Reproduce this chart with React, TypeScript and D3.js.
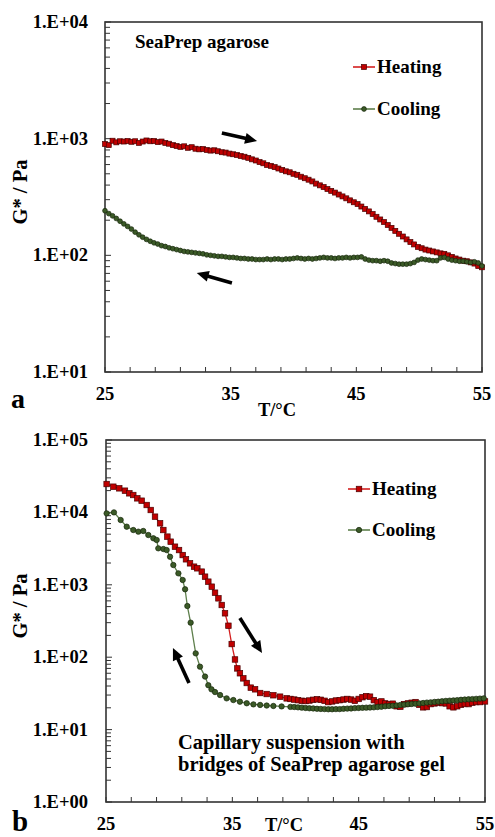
import React from 'react';
import * as d3 from 'd3';

// ---------------- DATA ----------------
const X_TICK_LABELS = [25, 35, 45, 55];
const X_MINOR_STEP = 2;

// Panel a (SeaPrep agarose)
const TEMPS_A = [25, 25.3, 25.6, 25.9, 26.2, 26.5, 26.8, 27.1, 27.4, 27.7, 28, 28.3, 28.6, 28.9, 29.2, 29.5, 29.8, 30.1, 30.4, 30.7,
  31, 31.3, 31.6, 31.9, 32.2, 32.5, 32.8, 33.1, 33.4, 33.7, 34, 34.3, 34.6, 34.9, 35.2, 35.5, 35.8, 36.1, 36.4, 36.7,
  37, 37.3, 37.6, 37.9, 38.2, 38.5, 38.8, 39.1, 39.4, 39.7, 40, 40.3, 40.6, 40.9, 41.2, 41.5, 41.8, 42.1, 42.4, 42.7,
  43, 43.3, 43.6, 43.9, 44.2, 44.5, 44.8, 45.1, 45.4, 45.7, 46, 46.3, 46.6, 46.9, 47.2, 47.5, 47.8, 48.1, 48.4, 48.7,
  49, 49.3, 49.6, 49.9, 50.2, 50.5, 50.8, 51.1, 51.4, 51.7, 52, 52.3, 52.6, 52.9, 53.2, 53.5, 53.8, 54.1, 54.4, 54.7, 55];
const HEAT_A = [900, 880, 960, 930, 950, 945, 955, 940, 950, 920,
  945, 965, 950, 955, 935, 945, 920, 905, 880, 865,
  850, 860, 835, 845, 820, 810, 815, 800, 790, 795,
  780, 765, 760, 745, 735, 725, 710, 700, 685, 665,
  650, 630, 615, 595, 585, 570, 555, 540, 525, 515,
  500, 490, 472, 458, 445, 430, 412, 398, 385, 370,
  357, 345, 332, 320, 308, 296, 285, 275, 262, 250,
  238, 226, 214, 203, 193, 182, 172, 162, 153, 145,
  137, 130, 124, 118, 115, 112, 110, 108, 106, 104,
  103, 100, 97, 94, 92, 90, 89, 87, 85, 81, 79];
const COOL_A = [241, 228, 218, 207, 196, 186, 177, 168, 158, 150,
  143, 137, 132, 128, 125, 121, 119, 116, 114, 112,
  110, 108, 107, 106, 105, 104, 103, 101, 100, 99,
  98, 98, 97, 96, 96, 95, 94, 94, 93, 93,
  92, 92, 92, 93, 92, 93, 93, 92, 93, 93,
  94, 95, 94, 93, 94, 93, 94, 95, 96, 95,
  95, 94, 95, 95, 96, 95, 96, 96, 97, 93,
  91, 90, 90, 89, 90, 89, 86, 85, 84, 84,
  84, 85, 87, 91, 93, 92, 91, 90, 90, 95,
  96, 93, 91, 90, 89, 89, 88, 87, 88, 86, 81];

// Panel b (capillary suspension)
const TEMPS_B_HEAT = [25.05, 25.58, 26.05, 26.5, 26.85, 27.16, 27.48, 27.82, 28.22, 28.54, 28.88, 29.28, 29.54, 29.86, 30.12,
  30.46, 30.78, 31.07, 31.33, 31.65, 31.97, 32.23, 32.58, 32.84, 33.1, 33.37, 33.63, 33.9, 34.16, 34.42, 34.69, 34.95,
  35.21, 35.4, 35.6, 35.87, 36.14, 36.46, 36.8, 37.2, 37.72, 38.25, 38.78, 39.3,
  39.6, 39.9, 40.2, 40.5, 40.8, 41.1, 41.4, 41.7, 42, 42.3, 42.6, 42.9, 43.2, 43.5, 43.8, 44.1, 44.4, 44.7, 45, 45.3,
  45.6, 45.9, 46.2, 46.5, 46.8, 47.1, 47.4, 47.7, 48, 48.3, 48.6, 48.9, 49.2, 49.5, 49.8, 50.1, 50.4, 50.7, 51, 51.3,
  51.6, 51.9, 52.2, 52.5, 52.8, 53.1, 53.4, 53.7, 54, 54.3, 54.6, 55];
const HEAT_B = [24660, 22650, 21500, 19950, 18350, 17380, 15640, 14510, 12650, 10790, 8730, 7070, 5710, 4630, 3940,
  3360, 3020, 2575, 2250, 1980, 1780, 1690, 1520, 1295, 1105, 942, 778, 650, 526, 404, 272, 152,
  93, 70, 60, 51, 44, 38, 36, 32, 31, 29.8, 28.5, 27,
  26.5, 26, 25.5, 25, 24.8, 25.2, 25.8, 26.2, 25.8, 25, 24, 24.5, 25.2, 25.5, 26, 26.5, 26, 25, 26.5, 28,
  29, 28.5, 25.5, 24, 24.5, 23, 22.5, 22.8, 21, 20.7, 22.5, 23, 23.5, 24, 22, 20.3, 20.5, 22.5, 23, 23.5,
  23.2, 23, 21, 20.3, 21, 22, 22.6, 22.5, 23.5, 24, 24, 24.5];
const TEMPS_B_COOL = [25.05, 25.63, 26.16, 26.64, 27.16, 27.56, 27.95, 28.35, 28.75, 29.01, 29.14, 29.54, 29.8, 30.07,
  30.33, 30.73, 31.07, 31.26, 31.44, 31.7, 32.1, 32.44, 32.84, 33.1, 33.35, 33.63, 34.03, 34.55, 35.08, 35.6,
  36.14, 36.67, 37.2, 37.72, 38.25, 38.9, 39.6,
  39.9, 40.2, 40.5, 40.8, 41.1, 41.4, 41.7, 42, 42.3, 42.6, 42.9, 43.2, 43.5, 43.8, 44.1, 44.4, 44.7, 45, 45.3, 45.6,
  45.9, 46.2, 46.5, 46.8, 47.1, 47.4, 47.7, 48, 48.3, 48.6, 48.9, 49.2, 49.5, 49.8, 50.1, 50.4, 50.7, 51, 51.3, 51.6,
  51.9, 52.2, 52.5, 52.8, 53.1, 53.4, 53.7, 54, 54.3, 54.6, 54.9];
const COOL_B = [9700, 10000, 7850, 6350, 5710, 5420, 5540, 4870, 4390, 4160, 3190, 3120, 3020, 2440,
  1875, 1440, 1165, 867, 509, 300, 113, 74, 54, 41, 36, 33, 30, 27, 25.6, 24.3,
  23.1, 22.3, 21.9, 21.5, 21.2, 20.9, 20.6,
  20.5, 20.3, 20.1, 19.9, 19.7, 19.6, 19.4, 19.3, 19.2, 19.1, 19.1, 19.2, 19.2, 19.4, 19.5, 19.6, 19.8, 19.9, 20, 20.1,
  20.2, 20.3, 20.5, 20.7, 21, 21.2, 21.4, 21.6, 21.9, 22.1, 22.4, 22.6, 22.8, 23, 23.3, 23.6, 23.8, 24.1, 24.3, 24.6,
  24.9, 25.1, 25.3, 25.5, 25.8, 26, 26.2, 26.4, 26.6, 26.8, 27];

// Arrow annotations in data coordinates [T, G*]
const ARROWS_A = [
  { from: [34.3, 1120], to: [37.1, 955] },
  { from: [35.1, 58], to: [32.3, 70.6] },
];
const ARROWS_B = [
  { from: [35.6, 348], to: [37.35, 114] },
  { from: [31.57, 44], to: [30.3, 134] },
];

// ---------------- STYLE ----------------
const FONT = "'Liberation Serif', 'Times New Roman', Times, serif";
const HEAT_FILL = '#c00000';
const HEAT_EDGE = '#4a0000';
const HEAT_LINE = '#d42020';
const COOL_FILL = '#3b5a27';
const COOL_EDGE = '#17260c';
const COOL_LINE = '#5e7f4c';
const AXIS = '#333';

type Pt = { t: number; v: number };

function zip(ts: number[], vs: number[]): Pt[] {
  return ts.map((t, i) => ({ t, v: vs[i] }));
}

function fmtExp(e: number) {
  const s = String(Math.abs(e)).padStart(2, '0');
  return `1.E${e < 0 ? '-' : '+'}${s}`;
}

interface PanelProps {
  left: number; right: number; top: number; bottom: number;
  eMin: number; eMax: number;
  heat: Pt[]; cool: Pt[];
  sq: number; r: number;
  legend: { x1: number; x2: number; yHeat: number; yCool: number };
  arrows: { from: number[]; to: number[] }[];
  yLabelY: number;
  xLabel: { x: number; y: number };
  letter: { x: number; y: number; text: string; size: number };
  notes: { x: number; y: number; text: string }[];
  noteSize: number;
}

function Arrow({ x1, y1, x2, y2 }: { x1: number; y1: number; x2: number; y2: number }) {
  const dx = x2 - x1, dy = y2 - y1;
  const len = Math.hypot(dx, dy);
  const ux = dx / len, uy = dy / len;
  const hl = 12, hw = 5.5;
  const bx = x2 - ux * hl, by = y2 - uy * hl;
  const px = -uy, py = ux;
  const pts = [[x2, y2], [bx + px * hw, by + py * hw], [bx - px * hw, by - py * hw]];
  return (
    <g>
      <line x1={x1} y1={y1} x2={bx + ux * 1} y2={by + uy * 1} stroke="#000" strokeWidth={3.6} />
      <polygon points={pts.map(p => p.join(',')).join(' ')} fill="#000" />
    </g>
  );
}

function Panel(p: PanelProps) {
  const x = d3.scaleLinear().domain([25, 55]).range([p.left, p.right]);
  const y = d3.scaleLog().domain([Math.pow(10, p.eMin), Math.pow(10, p.eMax)]).range([p.bottom, p.top]);
  const line = d3.line<Pt>().x(d => x(d.t)).y(d => y(d.v));
  const minorX = d3.range(25, 55.01, X_MINOR_STEP);
  const decades = d3.range(p.eMin, p.eMax + 1);
  const minorY: number[] = [];
  for (let e = p.eMin; e < p.eMax; e++) for (let k = 2; k <= 9; k++) minorY.push(k * Math.pow(10, e));
  const tl = 5;
  const legCx = (p.legend.x1 + p.legend.x2) / 2;
  return (
    <g fontFamily={FONT} fontWeight="bold" fill="#000">
      {/* ticks */}
      {minorX.map(t => (
        <line key={'xt' + t} x1={x(t)} x2={x(t)} y1={p.bottom} y2={p.bottom - tl} stroke={AXIS} strokeWidth={1} />
      ))}
      {decades.map(e => (
        <line key={'yd' + e} x1={p.left} x2={p.left + tl + 1} y1={y(Math.pow(10, e))} y2={y(Math.pow(10, e))} stroke={AXIS} strokeWidth={1} />
      ))}
      {minorY.map(v => (
        <line key={'ym' + v} x1={p.left} x2={p.left + tl} y1={y(v)} y2={y(v)} stroke={AXIS} strokeWidth={1} />
      ))}
      {/* frame */}
      <rect x={p.left} y={p.top} width={p.right - p.left} height={p.bottom - p.top} fill="none" stroke={AXIS} strokeWidth={1.6} />
      {/* tick labels */}
      {X_TICK_LABELS.map(t => (
        <text key={'xl' + t} x={x(t)} y={p.bottom + 28} textAnchor="middle" fontSize={18.5}>{t}</text>
      ))}
      {decades.map(e => (
        <text key={'yl' + e} x={88} y={y(Math.pow(10, e)) + 6} textAnchor="end" fontSize={18.5}>{fmtExp(e)}</text>
      ))}
      {/* axis labels */}
      <text transform={`translate(27,${p.yLabelY}) rotate(-90)`} textAnchor="middle" fontSize={20.5}>G* / Pa</text>
      <text x={p.xLabel.x} y={p.xLabel.y} textAnchor="middle" fontSize={18.5}>T/°C</text>
      <text x={p.letter.x} y={p.letter.y} fontSize={p.letter.size}>{p.letter.text}</text>
      {p.notes.map((n, i) => (
        <text key={'n' + i} x={n.x} y={n.y} fontSize={p.noteSize}>{n.text}</text>
      ))}
      {/* series */}
      <path d={line(p.heat) || ''} fill="none" stroke={HEAT_LINE} strokeWidth={1.3} />
      <path d={line(p.cool) || ''} fill="none" stroke={COOL_LINE} strokeWidth={1.3} />
      {p.heat.map((d, i) => (
        <rect key={'h' + i} x={x(d.t) - p.sq / 2} y={y(d.v) - p.sq / 2} width={p.sq} height={p.sq}
          fill={HEAT_FILL} stroke={HEAT_EDGE} strokeWidth={0.7} />
      ))}
      {p.cool.map((d, i) => (
        <circle key={'c' + i} cx={x(d.t)} cy={y(d.v)} r={p.r} fill={COOL_FILL} stroke={COOL_EDGE} strokeWidth={0.7} />
      ))}
      {/* arrows */}
      {p.arrows.map((a, i) => (
        <Arrow key={'a' + i} x1={x(a.from[0])} y1={y(a.from[1])} x2={x(a.to[0])} y2={y(a.to[1])} />
      ))}
      {/* legend */}
      <line x1={p.legend.x1} x2={p.legend.x2} y1={p.legend.yHeat} y2={p.legend.yHeat} stroke={HEAT_LINE} strokeWidth={1.6} />
      <rect x={legCx - p.sq / 2} y={p.legend.yHeat - p.sq / 2} width={p.sq} height={p.sq} fill={HEAT_FILL} stroke={HEAT_EDGE} strokeWidth={0.7} />
      <text x={p.legend.x2 + 2} y={p.legend.yHeat + 5.5} fontSize={19}>Heating</text>
      <line x1={p.legend.x1} x2={p.legend.x2} y1={p.legend.yCool} y2={p.legend.yCool} stroke={COOL_LINE} strokeWidth={1.6} />
      <circle cx={legCx} cy={p.legend.yCool} r={p.r} fill={COOL_FILL} stroke={COOL_EDGE} strokeWidth={0.7} />
      <text x={p.legend.x2 + 2} y={p.legend.yCool + 5.5} fontSize={19}>Cooling</text>
    </g>
  );
}

export default function App() {
  return (
    <svg width={495} height={837} viewBox="0 0 495 837"
      style={{ position: 'absolute', left: 0, top: 0, background: '#fff' }}>
      <rect x={0} y={0} width={495} height={837} fill="#fff" />
      <Panel
        left={105} right={482} top={22} bottom={372}
        eMin={1} eMax={4}
        heat={zip(TEMPS_A, HEAT_A)} cool={zip(TEMPS_A, COOL_A)}
        sq={5} r={2.4}
        legend={{ x1: 353, x2: 375, yHeat: 67, yCool: 109 }}
        arrows={ARROWS_A}
        yLabelY={192}
        xLabel={{ x: 277, y: 416 }}
        letter={{ x: 11, y: 408, text: 'a', size: 28 }}
        notes={[{ x: 135, y: 48, text: 'SeaPrep agarose' }]}
        noteSize={19}
      />
      <Panel
        left={106} right={485} top={440} bottom={802}
        eMin={0} eMax={5}
        heat={zip(TEMPS_B_HEAT, HEAT_B)} cool={zip(TEMPS_B_COOL, COOL_B)}
        sq={5.5} r={2.7}
        legend={{ x1: 348, x2: 370, yHeat: 489, yCool: 530 }}
        arrows={ARROWS_B}
        yLabelY={606}
        xLabel={{ x: 284, y: 831 }}
        letter={{ x: 12, y: 831, text: 'b', size: 29 }}
        notes={[
          { x: 178, y: 749, text: 'Capillary suspension with' },
          { x: 178, y: 771, text: 'bridges of SeaPrep agarose gel' },
        ]}
        noteSize={20.5}
      />
    </svg>
  );
}
